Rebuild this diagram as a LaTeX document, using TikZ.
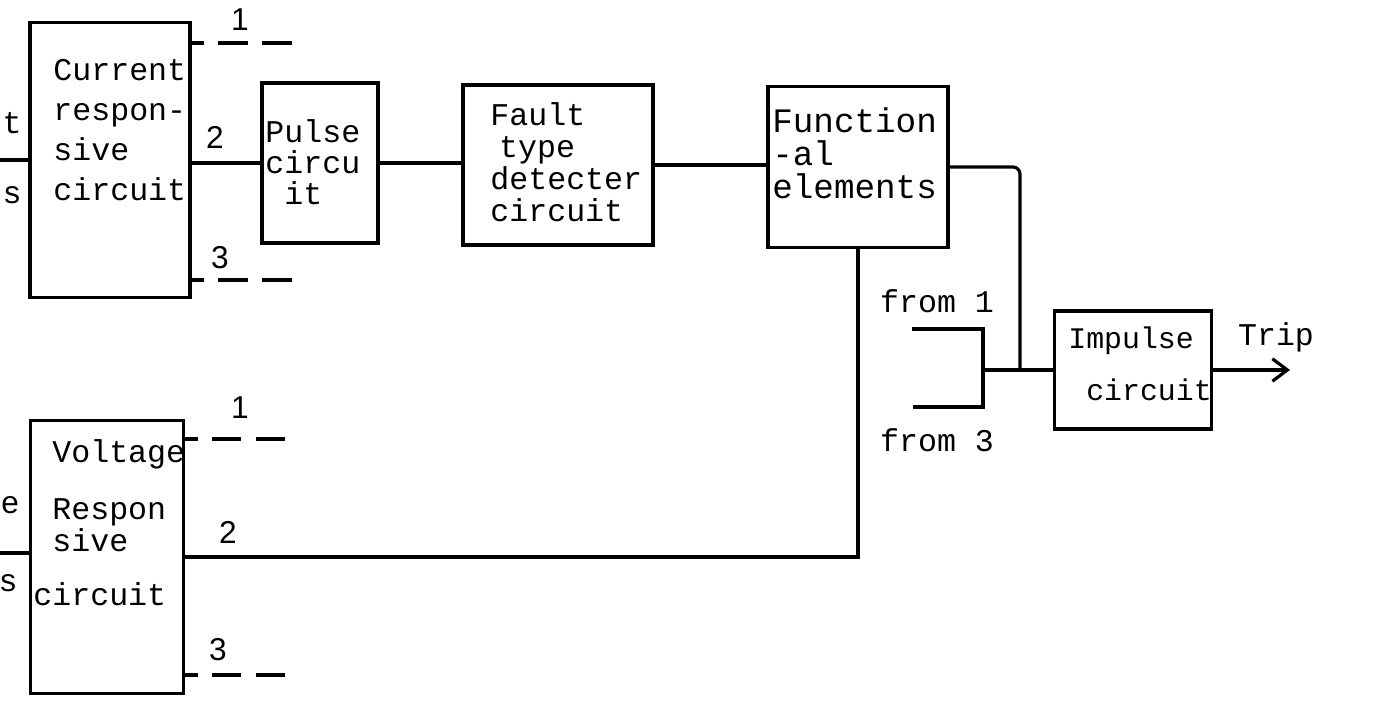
\documentclass[tikz,border=0pt]{standalone}
\usepackage{fontspec}
\setmainfont{Liberation Mono}
\setsansfont{Liberation Sans}
\usetikzlibrary{arrows.meta,positioning,calc}

\tikzset{
  blk/.style={draw, line width=2pt, inner sep=0pt},
  blktxt/.style={font=\fontsize{18}{#1}\selectfont, align=left, inner sep=0pt, anchor=west},
  wire/.style={line width=1.8pt},
  spare/.style={line width=1.8pt, dash pattern=on 17pt off 8pt, dash phase=10pt},
  numtag/.style={font=\sffamily\fontsize{18}{20}\selectfont, inner sep=0pt},
  plain/.style={font=\fontsize{18}{20}\selectfont, inner sep=0pt},
  tripline/.style={-{Straight Barb[length=3mm, width=4.5mm]}, line width=1.8pt}
}

\begin{document}
\begin{tikzpicture}[x=0.02cm, y=-0.02cm]
  \useasboundingbox (0,0) rectangle (1376,700);

  % blocks
  \node[blk, minimum width=3.2cm, minimum height=5.5cm] (cur) at (110,160) {};
  \node[blk, minimum width=2.32cm, minimum height=3.2cm] (pul) at (320,163) {};
  \node[blk, minimum width=3.8cm, minimum height=3.2cm] (flt) at (558,165) {};
  \node[blk, minimum width=3.6cm, minimum height=3.22cm] (fun) at (858,167) {};
  \node[blk, minimum width=3.14cm, minimum height=2.36cm] (imp) at (1133,370) {};
  \node[blk, minimum width=3.06cm, minimum height=5.46cm] (vol) at (107,557) {};

  % block texts
  \node[blktxt=22.7pt] (curtxt) at (53,130) {Current\\respon-\\sive\\circuit};
  \node[blktxt=17.6pt] (pultxt) at (265,162) {Pulse\\circu\\~it};
  \node[blktxt=18.2pt] (flttxt) at (490,162) {Fault\\\hspace{5pt}type\\detecter\\circuit};
  \node[blktxt=18.7pt, font=\fontsize{19.5}{18.7pt}\selectfont] (funtxt) at (772,153) {Function\\-al\\elements};
  \node[blktxt=29.5pt, font=\fontsize{17}{29.5pt}\selectfont] (imptxt) at (1068,364) {Impulse\\~circuit};
  \node[blktxt=14.2pt] (voltxt) at (33,523) {~Voltage\\[16pt]~Respon\\~sive\\[17pt]circuit};

  % cut-off words at the edges
  \node[plain] (lt1) at (12,123) {t};
  \node[plain] (lt2) at (12,195) {s};
  \node[plain] (lt3) at (10,505) {e};
  \node[plain] (lt4) at (8,583) {s};

  % inputs
  \coordinate (ic) at (0,160);
  \coordinate (iv) at (0,553);
  \draw[wire] (ic) -- (ic -| cur.west);
  \draw[wire] (iv) -- (iv -| vol.west);

  % outputs 1 and 3 (not shown further)
  \coordinate (c1) at (299,43);
  \coordinate (c3) at (305,280);
  \coordinate (v1) at (299,439);
  \coordinate (v3) at (299,675);
  \draw[spare] (c1 -| cur.east) -- (c1);
  \draw[spare] (c3 -| cur.east) -- (c3);
  \draw[spare] (v1 -| vol.east) -- (v1);
  \draw[spare] (v3 -| vol.east) -- (v3);
  \node[numtag] (n1) at (240,20) {1};
  \node[numtag] (n2) at (215,137) {2};
  \node[numtag] (n3) at (220,258) {3};
  \node[numtag] (m1) at (240,408) {1};
  \node[numtag] (m2) at (228,532) {2};
  \node[numtag] (m3) at (218,650) {3};

  % main chain
  \draw[wire] (cur.east |- pul.west) -- (pul.west);
  \draw[wire] (pul.east) -- (pul.east -| flt.west);
  \draw[wire] (flt.east) -- (flt.east -| fun.west);
  \draw[wire] (fun.south) |- (vol.east);

  % into the impulse circuit
  \coordinate (jn) at (1020,370);
  \coordinate (fj) at (983,370);
  \coordinate (f1) at (912,329);
  \coordinate (f3) at (913,407);
  \draw[wire, rounded corners=4pt] (fun.east) -| (jn);
  \draw[wire] (f1) -| (fj) |- (f3);
  \draw[wire] (fj) -- (imp.west);
  \node[plain] (from1) at (937,301) {from 1};
  \node[plain] (from3) at (937,440) {from 3};

  \coordinate (tripend) at (1290,370);
  \draw[tripline] (imp.east) -- (tripend);
  \node[plain] (trip) at (1276,337) {Trip};
\end{tikzpicture}
\end{document}
